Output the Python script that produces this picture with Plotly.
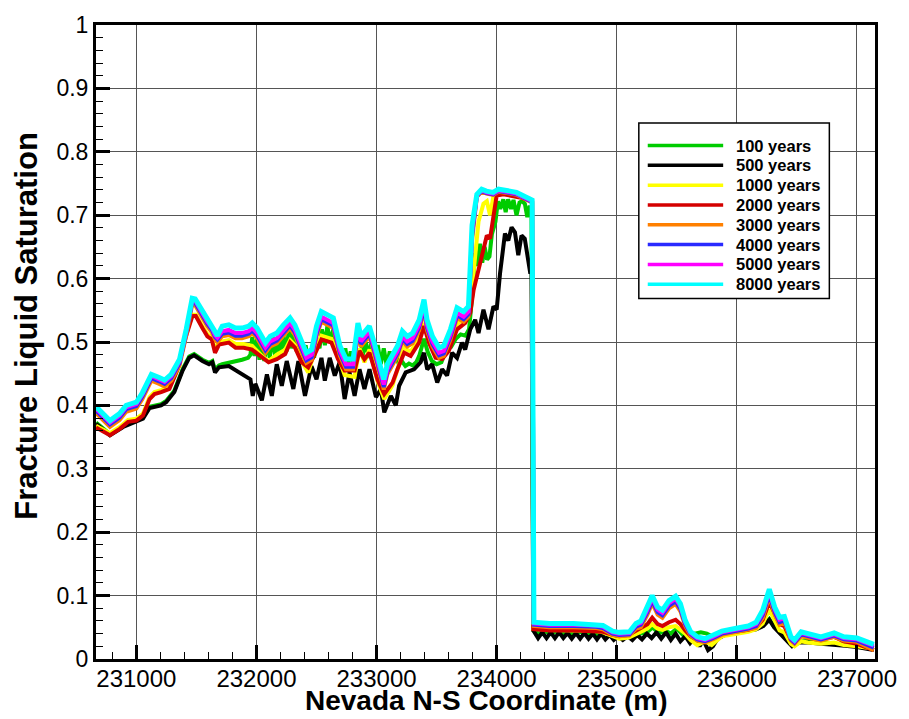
import plotly.graph_objects as go

# ---------------- data ----------------
series_names = ["100 years", "500 years", "1000 years", "2000 years",
                "3000 years", "4000 years", "5000 years", "8000 years"]
series_colors = ["#00CC00", "#000000", "#FFFF00", "#D40000",
                 "#FF8000", "#2A2AFF", "#FF00FF", "#00FFFF"]

x_ticks = [231000, 232000, 233000, 234000, 235000, 236000, 237000]
y_ticks = [0, 0.1, 0.2, 0.3, 0.4, 0.5, 0.6, 0.7, 0.8, 0.9, 1]

# shared grid for 3000 / 4000 / 5000 / 8000 years
x_grid_a = [230665, 230685, 230780, 230860, 230915, 231000, 231050, 231125, 231190, 231235,
            231290, 231360, 231415, 231465, 231490, 231550, 231590, 231630, 231655, 231675,
            231715, 231770, 231825, 231880, 231935, 231965, 232005, 232075, 232115, 232170,
            232225, 232280, 232320, 232375, 232415, 232460, 232500, 232540, 232595, 232640,
            232695, 232745, 232805, 232845, 232870, 232940, 232980, 233035, 233060, 233090,
            233175, 233215, 233255, 233300, 233355, 233395, 233420, 233465, 233520, 233560,
            233615, 233670, 233725, 233765, 233795, 233835, 233875, 233915, 233970, 234015,
            234070, 234110, 234165, 234220, 234280, 234295, 234310, 234440, 234640, 234830,
            234885, 234965, 235020, 235105, 235160, 235200, 235255, 235295, 235340, 235380,
            235435, 235490, 235530, 235570, 235615, 235670, 235735, 235790, 235875, 235985,
            236095, 236160, 236215, 236270, 236315, 236355, 236395, 236450, 236480, 236535,
            236590, 236700, 236810, 236890, 237000, 237140]

y_8000 = [0.397, 0.394, 0.376, 0.387, 0.400, 0.405, 0.420, 0.449, 0.444, 0.440,
          0.449, 0.473, 0.520, 0.569, 0.568, 0.548, 0.535, 0.525, 0.514, 0.510,
          0.525, 0.527, 0.522, 0.522, 0.525, 0.530, 0.522, 0.499, 0.509, 0.514,
          0.527, 0.538, 0.527, 0.499, 0.483, 0.488, 0.525, 0.548, 0.543, 0.538,
          0.494, 0.473, 0.473, 0.530, 0.509, 0.525, 0.499, 0.455, 0.441, 0.465,
          0.494, 0.517, 0.509, 0.514, 0.535, 0.567, 0.535, 0.509, 0.491, 0.494,
          0.520, 0.554, 0.548, 0.556, 0.684, 0.733, 0.741, 0.738, 0.736, 0.741,
          0.740, 0.738, 0.736, 0.731, 0.726, 0.724, 0.058, 0.056, 0.056, 0.055,
          0.053, 0.044, 0.042, 0.043, 0.056, 0.060, 0.082, 0.100, 0.082, 0.077,
          0.092, 0.099, 0.087, 0.061, 0.043, 0.035, 0.032, 0.036, 0.044, 0.048,
          0.052, 0.058, 0.077, 0.110, 0.082, 0.066, 0.067, 0.035, 0.030, 0.043,
          0.040, 0.035, 0.041, 0.035, 0.033, 0.023]

y_5000 = [0.394, 0.391, 0.373, 0.384, 0.397, 0.402, 0.417, 0.446, 0.441, 0.437,
          0.446, 0.470, 0.517, 0.566, 0.565, 0.545, 0.532, 0.522, 0.511, 0.507,
          0.517, 0.519, 0.514, 0.514, 0.517, 0.522, 0.514, 0.491, 0.501, 0.506,
          0.519, 0.530, 0.519, 0.491, 0.475, 0.480, 0.517, 0.540, 0.535, 0.530,
          0.486, 0.465, 0.465, 0.522, 0.501, 0.517, 0.491, 0.447, 0.433, 0.457,
          0.486, 0.509, 0.501, 0.506, 0.527, 0.559, 0.527, 0.501, 0.483, 0.486,
          0.512, 0.546, 0.540, 0.548, 0.675, 0.731, 0.739, 0.736, 0.734, 0.739,
          0.738, 0.736, 0.734, 0.729, 0.724, 0.722, 0.056, 0.054, 0.054, 0.053,
          0.051, 0.042, 0.040, 0.041, 0.054, 0.057, 0.078, 0.096, 0.078, 0.073,
          0.088, 0.095, 0.083, 0.058, 0.041, 0.033, 0.030, 0.034, 0.042, 0.046,
          0.050, 0.055, 0.073, 0.106, 0.078, 0.062, 0.064, 0.033, 0.028, 0.041,
          0.038, 0.033, 0.039, 0.033, 0.031, 0.021]

y_4000 = [0.391, 0.388, 0.370, 0.381, 0.394, 0.399, 0.414, 0.443, 0.438, 0.434,
          0.443, 0.467, 0.514, 0.563, 0.562, 0.542, 0.529, 0.519, 0.508, 0.504,
          0.513, 0.515, 0.510, 0.510, 0.513, 0.518, 0.510, 0.487, 0.497, 0.502,
          0.515, 0.526, 0.515, 0.487, 0.471, 0.476, 0.513, 0.536, 0.531, 0.526,
          0.482, 0.461, 0.461, 0.518, 0.497, 0.513, 0.487, 0.443, 0.429, 0.453,
          0.482, 0.505, 0.497, 0.502, 0.523, 0.555, 0.523, 0.497, 0.479, 0.482,
          0.508, 0.542, 0.536, 0.544, 0.668, 0.730, 0.738, 0.735, 0.733, 0.738,
          0.737, 0.735, 0.733, 0.728, 0.723, 0.721, 0.054, 0.052, 0.052, 0.051,
          0.049, 0.040, 0.038, 0.039, 0.051, 0.054, 0.074, 0.092, 0.074, 0.069,
          0.084, 0.091, 0.079, 0.055, 0.039, 0.031, 0.028, 0.032, 0.040, 0.044,
          0.048, 0.052, 0.069, 0.102, 0.074, 0.058, 0.061, 0.031, 0.026, 0.039,
          0.036, 0.031, 0.037, 0.031, 0.029, 0.018]

y_3000 = [0.387, 0.384, 0.366, 0.377, 0.390, 0.395, 0.410, 0.439, 0.434, 0.430,
          0.439, 0.463, 0.510, 0.559, 0.558, 0.538, 0.525, 0.515, 0.504, 0.500,
          0.509, 0.511, 0.506, 0.506, 0.509, 0.514, 0.506, 0.483, 0.493, 0.498,
          0.511, 0.522, 0.511, 0.483, 0.467, 0.472, 0.509, 0.532, 0.527, 0.522,
          0.478, 0.457, 0.457, 0.514, 0.493, 0.509, 0.483, 0.439, 0.425, 0.449,
          0.478, 0.501, 0.493, 0.498, 0.519, 0.551, 0.519, 0.493, 0.475, 0.478,
          0.504, 0.538, 0.532, 0.540, 0.660, 0.729, 0.737, 0.734, 0.732, 0.737,
          0.736, 0.734, 0.732, 0.727, 0.722, 0.720, 0.052, 0.050, 0.050, 0.049,
          0.047, 0.038, 0.036, 0.037, 0.048, 0.050, 0.070, 0.088, 0.070, 0.065,
          0.080, 0.087, 0.075, 0.052, 0.037, 0.029, 0.026, 0.030, 0.038, 0.042,
          0.046, 0.049, 0.065, 0.098, 0.070, 0.054, 0.058, 0.029, 0.024, 0.036,
          0.034, 0.029, 0.035, 0.029, 0.027, 0.014]

# shared grid for 1000 / 2000 years
x_grid_b = [230664, 230683, 230780, 230862, 230931, 231000, 231055, 231110, 231151, 231206,
            231275, 231344, 231413, 231467, 231495, 231550, 231591, 231628, 231655, 231688,
            231770, 231826, 231894, 231963, 232045, 232101, 232169, 232239, 232280, 232321,
            232376, 232431, 232486, 232541, 232624, 232679, 232734, 232817, 232858, 232899,
            232941, 233009, 233064, 233133, 233174, 233230, 233284, 233354, 233395, 233436,
            233491, 233546, 233601, 233670, 233738, 233780, 233808, 233849, 233890, 233918,
            233945, 233973, 234000, 234056, 234111, 234193, 234276, 234295, 234305, 234440,
            234640, 234830, 234885, 234965, 235020, 235100, 235160, 235255, 235295, 235340,
            235380, 235435, 235490, 235530, 235570, 235615, 235670, 235735, 235790, 235875,
            235985, 236095, 236160, 236215, 236270, 236315, 236355, 236395, 236450, 236480,
            236535, 236590, 236700, 236810, 236890, 237000, 237140]

y_2000 = [0.365, 0.363, 0.353, 0.363, 0.374, 0.376, 0.384, 0.410, 0.418, 0.421,
          0.426, 0.457, 0.509, 0.541, 0.541, 0.522, 0.509, 0.504, 0.483, 0.496,
          0.499, 0.491, 0.491, 0.488, 0.475, 0.468, 0.473, 0.481, 0.499, 0.491,
          0.468, 0.460, 0.481, 0.504, 0.499, 0.473, 0.455, 0.455, 0.486, 0.473,
          0.483, 0.440, 0.418, 0.436, 0.457, 0.483, 0.478, 0.499, 0.525, 0.499,
          0.475, 0.473, 0.486, 0.520, 0.530, 0.546, 0.582, 0.613, 0.650, 0.668,
          0.663, 0.702, 0.731, 0.733, 0.731, 0.728, 0.723, 0.720, 0.047, 0.045,
          0.045, 0.044, 0.043, 0.038, 0.036, 0.038, 0.045, 0.055, 0.065, 0.055,
          0.052, 0.058, 0.062, 0.055, 0.045, 0.036, 0.030, 0.028, 0.032, 0.040,
          0.043, 0.046, 0.050, 0.062, 0.090, 0.070, 0.055, 0.052, 0.030, 0.026,
          0.037, 0.034, 0.031, 0.035, 0.028, 0.024, 0.014]

y_1000 = [0.368, 0.366, 0.356, 0.366, 0.377, 0.379, 0.387, 0.413, 0.421, 0.424,
          0.430, 0.460, 0.512, 0.543, 0.543, 0.525, 0.512, 0.508, 0.488, 0.500,
          0.503, 0.497, 0.497, 0.494, 0.478, 0.470, 0.480, 0.488, 0.503, 0.495,
          0.470, 0.452, 0.485, 0.510, 0.505, 0.478, 0.448, 0.445, 0.490, 0.468,
          0.488, 0.438, 0.410, 0.432, 0.458, 0.490, 0.485, 0.505, 0.530, 0.505,
          0.482, 0.478, 0.492, 0.528, 0.538, 0.555, 0.610, 0.690, 0.718, 0.722,
          0.700, 0.730, 0.735, 0.736, 0.734, 0.731, 0.726, 0.722, 0.048, 0.046,
          0.045, 0.044, 0.042, 0.036, 0.032, 0.034, 0.040, 0.048, 0.055, 0.048,
          0.046, 0.050, 0.052, 0.046, 0.040, 0.030, 0.022, 0.028, 0.022, 0.036,
          0.040, 0.043, 0.047, 0.056, 0.078, 0.060, 0.045, 0.042, 0.024, 0.020,
          0.028, 0.026, 0.024, 0.026, 0.022, 0.020, 0.016]

# 500 years (coordinate, saturation)
pts_500 = [
    (230664, 0.371), (230780, 0.353), (230890, 0.366), (231000, 0.374), (231055, 0.379),
    (231110, 0.396), (231206, 0.400), (231248, 0.405), (231316, 0.421), (231385, 0.455),
    (231440, 0.475), (231481, 0.479), (231550, 0.470), (231605, 0.465), (231633, 0.468),
    (231655, 0.452), (231688, 0.460), (231770, 0.462), (231878, 0.449), (231950, 0.441),
    (231969, 0.415), (231991, 0.434), (232045, 0.408), (232087, 0.449), (232128, 0.415),
    (232169, 0.465), (232211, 0.431), (232252, 0.470), (232307, 0.426), (232349, 0.470),
    (232404, 0.415), (232458, 0.462), (232500, 0.441), (232541, 0.475), (232569, 0.439),
    (232610, 0.475), (232652, 0.447), (232693, 0.468), (232734, 0.410), (232775, 0.452),
    (232817, 0.415), (232858, 0.457), (232899, 0.426), (232941, 0.457), (232995, 0.413),
    (233036, 0.426), (233064, 0.389), (233119, 0.415), (233160, 0.400), (233188, 0.431),
    (233243, 0.452), (233312, 0.457), (233367, 0.468), (233395, 0.483), (233422, 0.457),
    (233463, 0.465), (233505, 0.436), (233546, 0.457), (233587, 0.447), (233629, 0.483),
    (233670, 0.475), (233711, 0.499), (233738, 0.488), (233780, 0.520), (233821, 0.535),
    (233849, 0.514), (233890, 0.551), (233932, 0.520), (233973, 0.556), (234000, 0.551),
    (234028, 0.608), (234069, 0.671), (234097, 0.660), (234124, 0.681), (234152, 0.673),
    (234180, 0.637), (234207, 0.668), (234234, 0.663), (234276, 0.613), (234290, 0.615),
    (234305, 0.045), (234345, 0.033), (234380, 0.042), (234415, 0.033), (234450, 0.042),
    (234485, 0.033), (234520, 0.042), (234555, 0.033), (234590, 0.041), (234625, 0.032),
    (234660, 0.041), (234695, 0.032), (234730, 0.041), (234765, 0.032), (234800, 0.040),
    (234835, 0.031), (234870, 0.040), (234905, 0.031), (234940, 0.038), (234975, 0.030),
    (235010, 0.036), (235050, 0.030), (235090, 0.036), (235130, 0.030), (235170, 0.038),
    (235210, 0.031), (235250, 0.040), (235290, 0.033), (235330, 0.042), (235370, 0.032),
    (235410, 0.042), (235450, 0.030), (235490, 0.040), (235530, 0.028), (235570, 0.036),
    (235610, 0.025), (235650, 0.034), (235690, 0.020), (235720, 0.030), (235760, 0.014),
    (235800, 0.020), (235840, 0.032), (235900, 0.038), (236000, 0.042), (236100, 0.045),
    (236160, 0.047), (236220, 0.052), (236270, 0.062), (236310, 0.050), (236360, 0.040),
    (236420, 0.030), (236460, 0.020), (236520, 0.026), (236600, 0.026), (236700, 0.024),
    (236800, 0.023), (236900, 0.021), (237000, 0.019), (237140, 0.014),
]

# 100 years (coordinate, saturation)
pts_100 = [
    (230664, 0.373), (230780, 0.355), (230890, 0.368), (231000, 0.376), (231055, 0.381),
    (231110, 0.398), (231206, 0.402), (231248, 0.407), (231316, 0.423), (231385, 0.457),
    (231440, 0.477), (231481, 0.481), (231550, 0.472), (231605, 0.467), (231633, 0.470),
    (231655, 0.456), (231688, 0.463), (231715, 0.465), (231770, 0.467), (231830, 0.470),
    (231880, 0.472), (231930, 0.475), (231950, 0.480), (231965, 0.508), (231985, 0.478),
    (232005, 0.505), (232025, 0.472), (232045, 0.500), (232065, 0.470), (232090, 0.505),
    (232110, 0.475), (232135, 0.510), (232155, 0.478), (232180, 0.505), (232200, 0.480),
    (232225, 0.510), (232250, 0.485), (232270, 0.520), (232290, 0.490), (232310, 0.515),
    (232335, 0.485), (232360, 0.505), (232385, 0.470), (232410, 0.495), (232430, 0.465),
    (232455, 0.490), (232480, 0.475), (232500, 0.505), (232525, 0.490), (232545, 0.520),
    (232570, 0.495), (232590, 0.525), (232615, 0.500), (232640, 0.520), (232665, 0.485),
    (232690, 0.500), (232715, 0.465), (232740, 0.490), (232760, 0.462), (232785, 0.485),
    (232810, 0.465), (232835, 0.500), (232860, 0.510), (232885, 0.480), (232910, 0.500),
    (232935, 0.475), (232960, 0.505), (232985, 0.470), (233010, 0.495), (233035, 0.465),
    (233060, 0.490), (233085, 0.462), (233110, 0.485), (233135, 0.470), (233160, 0.480),
    (233185, 0.465), (233210, 0.470), (233240, 0.462), (233270, 0.466), (233300, 0.463),
    (233330, 0.468), (233355, 0.478), (233395, 0.505), (233425, 0.485), (233460, 0.470),
    (233500, 0.465), (233540, 0.468), (233580, 0.488), (233620, 0.492), (233660, 0.505),
    (233700, 0.512), (233740, 0.510), (233770, 0.520), (233800, 0.580), (233820, 0.640),
    (233840, 0.620), (233860, 0.655), (233880, 0.625), (233900, 0.650), (233920, 0.630),
    (233940, 0.635), (233960, 0.670), (233990, 0.690), (234010, 0.722), (234030, 0.710),
    (234055, 0.725), (234075, 0.705), (234095, 0.725), (234120, 0.710), (234140, 0.724),
    (234165, 0.700), (234190, 0.720), (234210, 0.722), (234235, 0.718), (234255, 0.697),
    (234275, 0.715), (234290, 0.700), (234305, 0.045), (234350, 0.040), (234400, 0.044),
    (234450, 0.040), (234500, 0.044), (234550, 0.040), (234600, 0.043), (234650, 0.039),
    (234700, 0.043), (234750, 0.039), (234800, 0.042), (234850, 0.038), (234900, 0.041),
    (234950, 0.036), (235000, 0.038), (235100, 0.038), (235200, 0.040), (235250, 0.042),
    (235300, 0.050), (235350, 0.040), (235400, 0.045), (235450, 0.040), (235500, 0.048),
    (235550, 0.038), (235600, 0.042), (235650, 0.040), (235700, 0.042), (235750, 0.040),
    (235800, 0.035), (235900, 0.040), (236000, 0.044), (236100, 0.046), (236160, 0.048),
    (236220, 0.053), (236270, 0.063), (236310, 0.051), (236360, 0.041), (236420, 0.031),
    (236460, 0.025), (236520, 0.029), (236600, 0.028), (236700, 0.026), (236800, 0.025),
    (236900, 0.023), (237000, 0.021), (237140, 0.016),
]

# ---------------- figure ----------------
series_x = [
    [p[0] for p in pts_100],
    [p[0] for p in pts_500],
    x_grid_b, x_grid_b,
    x_grid_a, x_grid_a, x_grid_a, x_grid_a,
]
series_y = [
    [p[1] for p in pts_100],
    [p[1] for p in pts_500],
    y_1000, y_2000,
    y_3000, y_4000, y_5000, y_8000,
]
line_widths = [4, 4, 4, 4, 4, 4, 4, 5]

fig = go.Figure()
for name, color, xs, ys, w in zip(series_names, series_colors, series_x, series_y, line_widths):
    n = min(len(xs), len(ys))
    fig.add_trace(go.Scatter(x=xs[:n], y=ys[:n], mode="lines", name=name,
                             line=dict(color=color, width=w), showlegend=False))

W, H = 909, 719
ML, MR, MT, MB = 96, 28, 19, 60
PW, PH = W - ML - MR, H - MT - MB


def px_to_paper_x(px):
    return (px - ML) / PW


def px_to_paper_y(py):
    return (H - MB - py) / PH


FONT = "Liberation Sans, Arial, Helvetica, sans-serif"

# custom legend (box, line samples, labels)
shapes = [dict(type="rect", xref="paper", yref="paper",
               x0=px_to_paper_x(643), x1=px_to_paper_x(835),
               y0=px_to_paper_y(295), y1=px_to_paper_y(118),
               fillcolor="white", line=dict(color="black", width=1.5), layer="above")]
annotations = []
for i, (name, color) in enumerate(zip(series_names, series_colors)):
    yy = px_to_paper_y(140.7 + 20 * i)
    shapes.append(dict(type="line", xref="paper", yref="paper",
                       x0=px_to_paper_x(652), x1=px_to_paper_x(728), y0=yy, y1=yy,
                       line=dict(color=color, width=3.5), layer="above"))
    annotations.append(dict(text="<b>%s</b>" % name, xref="paper", yref="paper",
                            x=px_to_paper_x(739), y=yy, xanchor="left", yanchor="middle",
                            showarrow=False,
                            font=dict(family=FONT, size=16.5, color="black")))

# axis titles
annotations.append(dict(text="<b>Nevada N-S Coordinate (m)</b>", xref="paper", yref="paper",
                        x=px_to_paper_x(490), y=0, yshift=-59,
                        xanchor="center", yanchor="bottom", showarrow=False,
                        font=dict(family=FONT, size=28, color="black")))
annotations.append(dict(text="<b>Fracture Liquid Saturation</b>", xref="paper", yref="paper",
                        x=px_to_paper_x(26), y=px_to_paper_y(323), xanchor="center",
                        yanchor="middle", textangle=-90, showarrow=False,
                        font=dict(family=FONT, size=31, color="black")))

fig.update_layout(
    width=W, height=H, autosize=False,
    margin=dict(l=ML, r=MR, t=MT, b=MB, pad=0),
    paper_bgcolor="white", plot_bgcolor="white",
    shapes=shapes, annotations=annotations,
    showlegend=False,
)

fig.update_xaxes(
    range=[230664, 237150], tickvals=x_ticks, ticktext=[str(v) for v in x_ticks],
    showgrid=True, gridcolor="#555555", gridwidth=1.3, zeroline=False,
    showline=True, linecolor="black", linewidth=3, mirror=True,
    ticks="inside", ticklen=14, tickwidth=2.5, tickcolor="black",
    ticklabelstandoff=-4,
    minor=dict(dtick=200, tick0=231000, ticks="inside", ticklen=7, tickwidth=1.2,
               tickcolor="black", showgrid=False),
    tickfont=dict(family=FONT, size=24, color="black"),
)
fig.update_yaxes(
    range=[0, 1], tickvals=y_ticks, ticktext=[("%g" % v) for v in y_ticks],
    showgrid=True, gridcolor="#555555", gridwidth=1.3, zeroline=False,
    showline=True, linecolor="black", linewidth=3, mirror=True,
    ticks="inside", ticklen=14, tickwidth=2.5, tickcolor="black",
    minor=dict(dtick=0.02, tick0=0, ticks="inside", ticklen=7, tickwidth=1.2,
               tickcolor="black", showgrid=False),
    tickfont=dict(family=FONT, size=23, color="black"),
)

fig.write_html("out.html")
